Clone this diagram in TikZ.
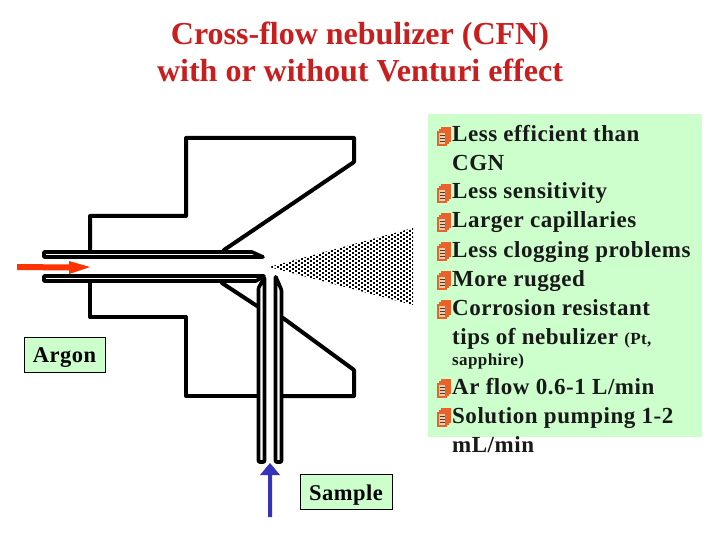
\documentclass[tikz,border=0pt]{standalone}
\usepackage{fontspec}
\setmainfont{Liberation Serif}[BoldFont={Liberation Serif Bold}]
\newfontfamily\bodyf{Liberation Serif Bold}[LetterSpace=2.3]
\newfontfamily\titlef{Liberation Serif Bold}
\definecolor{boxgreen}{HTML}{CCFFCC}
\definecolor{titlered}{HTML}{C81E1E}
\definecolor{arrowred}{HTML}{FF3300}
\definecolor{arrowblue}{HTML}{3333BB}
\definecolor{iconorange}{HTML}{E8622A}
\definecolor{iconpale}{HTML}{F9C9A0}
\tikzset{
  wall/.style={line width=4pt,line join=round,line cap=round,black},
  tube/.style={line width=3.6pt,line join=round,black},
  tlabel/.style={anchor=base,inner sep=0pt,font=\titlef\fontsize{32}{32}\selectfont,text=titlered},
  bline/.style={anchor=base west,inner sep=0pt,font=\bodyf\fontsize{23}{24}\selectfont,text=black!90},
  lab/.style={draw=black,line width=0.8pt,fill=boxgreen,inner sep=0pt,minimum height=35pt,text depth=3pt,text height=19pt,font=\bodyf\fontsize{22.5}{24}\selectfont},
  pics/stack/.style={code={
    \foreach \d in {4,2,0}{
      \filldraw[draw=iconorange,fill=iconpale,line width=1.1pt] (\d,-\d) rectangle ++(8,13);
    }
    \foreach \yy in {3,6,9}{
      \draw[black!75,line width=0.9pt] (1.5,\yy) -- ++(5,0);
    }
  }}
}
\begin{document}
\begin{tikzpicture}[x=1pt,y=-1pt]
\useasboundingbox (0,0) rectangle (720,540);
\fill[white] (0,0) rectangle (720,540);
\fill[boxgreen] (428,114) rectangle (702,437);
% title
\node[tlabel] (t1) at (360,45) {Cross-flow nebulizer (CFN)};
\node[tlabel] (t2) at (360,82) {with or without Venturi effect};
% body walls
\draw[wall] (90,250) -- (90,216) -- (186,216) -- (186,138) -- (354,138) -- (354,162) -- (224,250);
\draw[wall] (90,283) -- (90,317) -- (186,317) -- (186,396) -- (257,396);
\draw[wall] (222,283) -- (257,306);
\draw[wall] (283,318) -- (354,370) -- (354,396) -- (283,396);
% tubes
\draw[tube] (44,252) -- (252,252) -- (263,257) -- (44,257) -- cycle;
\draw[tube] (44,276) -- (264,276) -- (256,281) -- (44,281) -- cycle;
\draw[tube,rounded corners=1pt] (258.5,462) -- (258.5,288) -- (264.5,277) -- (264.5,462) -- cycle;
\draw[tube,rounded corners=1pt] (275.5,462) -- (275.5,276) -- (281.5,290) -- (281.5,462) -- cycle;
% spray
\begin{scope}
\clip (269,267) -- (413,228) -- (413,305) -- cycle;
\foreach \i in {0,...,48}{
  \pgfmathsetmacro{\xx}{268+\i*3}
  \pgfmathsetmacro{\yo}{224+mod(\i,2)*2}
  \fill[black] \foreach \j in {0,...,21}{ (\xx,\yo+\j*4) rectangle ++(1.9,1.9) };
}
\end{scope}
% arrows
\fill[arrowred] (17,264) -- (69,264.5) -- (69,261) -- (90,267) -- (69,274) -- (69,270.5) -- (17,270) -- cycle;
\fill[arrowblue] (268,517) -- (268,475) -- (260,475) -- (270,463) -- (280,475) -- (272,475) -- (272,517) -- cycle;
% labels
\node[lab,minimum width=81pt] (argon) at (64.5,354.5) {Argon};
\node[lab,minimum width=92pt] (sample) at (346,492) {Sample};
% text
\node[bline] (l1) at (452,142) {Less efficient than};
\node[bline] (l2) at (452,171) {CGN};
\node[bline] (l3) at (452,199) {Less sensitivity};
\node[bline] (l4) at (452,228) {Larger capillaries};
\node[bline] (l5) at (452,257) {Less clogging problems};
\node[bline] (l6) at (452,286) {More rugged};
\node[bline] (l7) at (452,315) {Corrosion resistant};
\node[bline] (l8) at (452,344) {tips of nebulizer {\fontsize{17}{18}\selectfont (Pt,}};
\node[bline,font=\bodyf\fontsize{17}{18}\selectfont] (l9) at (452,365) {sapphire)};
\node[bline] (l10) at (452,394) {Ar flow 0.6-1 L/min};
\node[bline] (l11) at (452,423) {Solution pumping 1-2};
\node[bline] (l12) at (452,452) {mL/min};
\foreach \yy in {142,199,228,257,286,315,394,423}{
  \pic at (438,\yy-10) {stack};
}
\end{tikzpicture}
\end{document}
